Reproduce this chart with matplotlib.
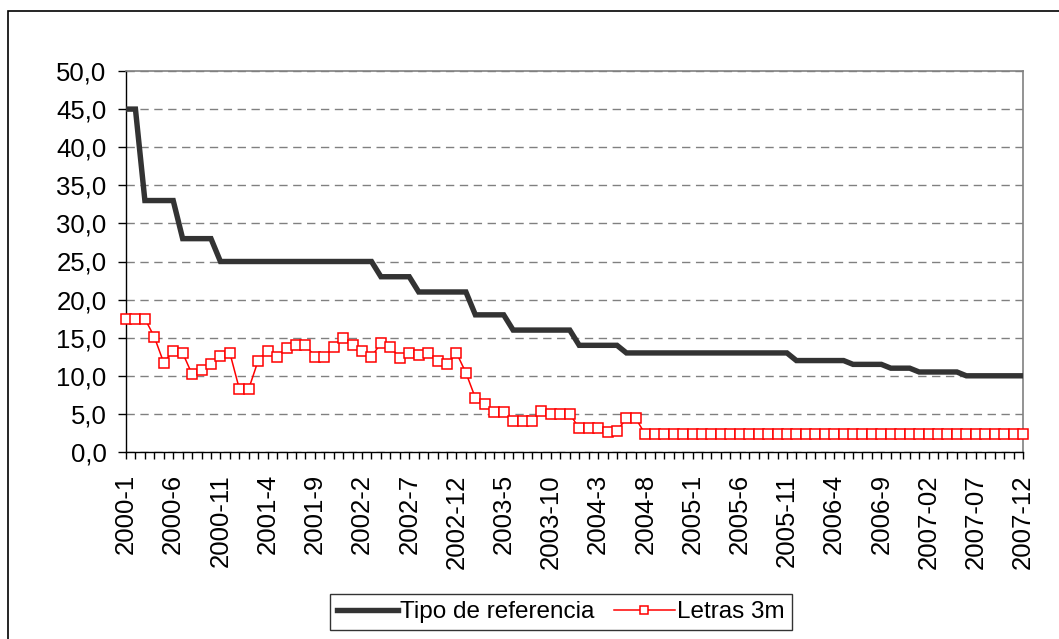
import matplotlib.pyplot as plt
from matplotlib.patches import Rectangle
from matplotlib.ticker import FuncFormatter

plt.rcParams['font.family'] = ['Liberation Sans', 'DejaVu Sans']

# monthly series, 2000-1 .. 2007-12 (96 months)
tipo_referencia = ([45] * 2 + [33] * 4 + [28] * 4 + [25] * 17 + [23] * 4 + [21] * 6
                   + [18] * 4 + [16] * 7 + [14] * 5 + [13] * 18 + [12] * 6 + [11.5] * 4
                   + [11] * 3 + [10.5] * 5 + [10] * 7)

letras_3m = [17.5, 17.5, 17.5, 15.1, 11.7, 13.3, 13.0, 10.2, 10.8, 11.5,
             12.6, 13.0, 8.3, 8.3, 12.0, 13.3, 12.5, 13.6, 14.1, 14.1,
             12.5, 12.5, 13.8, 15.0, 14.1, 13.3, 12.5, 14.3, 13.8, 12.3,
             13.0, 12.7, 13.0, 12.0, 11.5, 13.0, 10.4, 7.1, 6.3, 5.2,
             5.2, 4.1, 4.1, 4.1, 5.4, 5.0, 5.0, 5.0, 3.1, 3.1,
             3.1, 2.6, 2.8, 4.4, 4.4] + [2.3] * 41

tick_labels = ['2000-1', '2000-6', '2000-11', '2001-4', '2001-9', '2002-2', '2002-7',
               '2002-12', '2003-5', '2003-10', '2004-3', '2004-8', '2005-1', '2005-6',
               '2005-11', '2006-4', '2006-9', '2007-02', '2007-07', '2007-12']

x = list(range(len(tipo_referencia)))

fig = plt.figure(figsize=(10.59, 6.39), dpi=100)
ax = fig.add_axes([126 / 1059, 1 - 452 / 639, (1023 - 126) / 1059, (452 - 71) / 639])

# outer chart border (right/bottom edges are off the picture)
fig.patches.append(Rectangle((8 / 1059, -0.1), 1.2, 1 - 11 / 639 + 0.1,
                             transform=fig.transFigure, fill=False,
                             edgecolor='black', linewidth=1.2))

ax.plot(x, tipo_referencia, color='#333333', linewidth=3.9,
        solid_joinstyle='miter', label='Tipo de referencia', zorder=3)
ax.plot(x, letras_3m, color='#ff0000', linewidth=1.1, marker='s', markersize=7,
        markerfacecolor='white', markeredgecolor='#ff0000', markeredgewidth=1.1,
        label='Letras 3m', zorder=4, clip_on=False)

ax.set_xlim(0, len(x) - 1)
ax.set_ylim(0, 50)
ax.set_yticks(range(0, 51, 5))
ax.yaxis.set_major_formatter(FuncFormatter(lambda v, p: f'{v:.1f}'.replace('.', ',')))
ax.set_xticks(range(0, len(x), 5))
ax.set_xticklabels(tick_labels, rotation=90)
ax.set_xticks(x, minor=True)

ax.tick_params(axis='y', labelsize=18.5, length=6, width=1, pad=8, direction='out')
ax.tick_params(axis='x', which='both', labelsize=18.5, length=5, width=1, pad=11,
               direction='out')

ax.grid(axis='y', color='#808080', linestyle=(0, (6, 4)), linewidth=1)
for s in ['top', 'right']:
    ax.spines[s].set_color('#808080')
    ax.spines[s].set_linewidth(1.2)
for s in ['left', 'bottom']:
    ax.spines[s].set_color('black')
    ax.spines[s].set_linewidth(1)

leg = ax.legend(loc='center', bbox_to_anchor=(561 / 1059, 1 - 612 / 639),
                bbox_transform=fig.transFigure, ncol=2, fontsize=17.5,
                frameon=True, fancybox=False, edgecolor='black',
                handlelength=2.5, handletextpad=0.1, columnspacing=0.8,
                borderpad=0.3, markerscale=0.85)
leg.get_frame().set_linewidth(1)

fig.savefig('out.png', dpi=100)
